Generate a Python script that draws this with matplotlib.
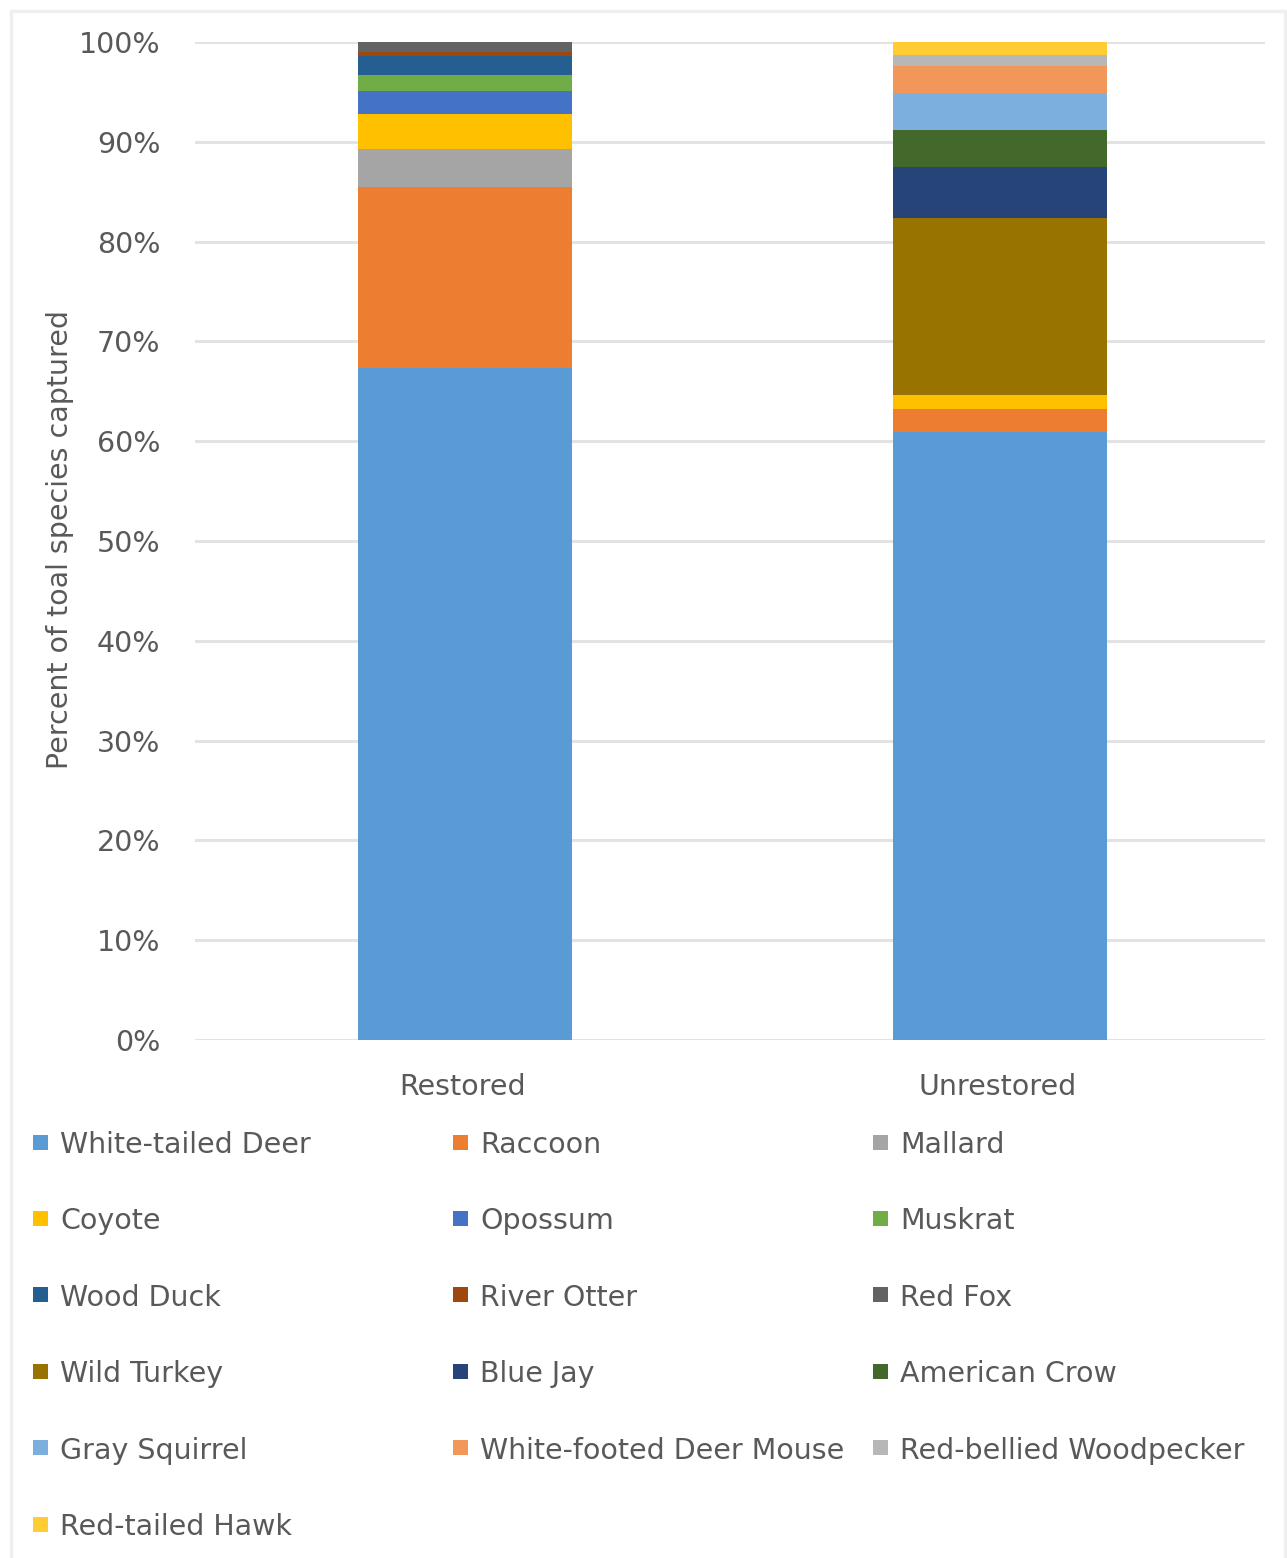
import matplotlib
matplotlib.use("Agg")
import matplotlib.pyplot as plt
from matplotlib.patches import Rectangle
from matplotlib.ticker import PercentFormatter
import numpy as np

# site groups and percent of captures per species
categories = ["Restored", "Unrestored"]
species = [
    "White-tailed Deer", "Raccoon", "Mallard",
    "Coyote", "Opossum", "Muskrat",
    "Wood Duck", "River Otter", "Red Fox",
    "Wild Turkey", "Blue Jay", "American Crow",
    "Gray Squirrel", "White-footed Deer Mouse", "Red-bellied Woodpecker",
    "Red-tailed Hawk",
]
restored = [67.3, 18.2, 3.8, 3.5, 2.3, 1.6, 1.9, 0.4, 1.0, 0, 0, 0, 0, 0, 0, 0]
unrestored = [60.9, 2.3, 0, 1.4, 0, 0, 0, 0, 0, 17.8, 5.1, 3.7, 3.7, 2.7, 1.1, 1.3]
colors = [
    "#5B9BD5", "#ED7D31", "#A5A5A5",
    "#FFC000", "#4472C4", "#70AD47",
    "#255E91", "#9E480E", "#636363",
    "#997300", "#264478", "#43682B",
    "#7CAFDD", "#F1975A", "#B7B7B7",
    "#FFCD33",
]

TXT = "#595959"
FS = 20.5
W, H = 1287, 1558

fig = plt.figure(figsize=(W / 100, H / 100), dpi=100)
fig.patch.set_facecolor("white")
ax = fig.add_axes([195 / W, 1 - 1040 / H, 1070 / W, 998 / H])

x = np.arange(len(categories))
bottom = np.zeros(len(categories))
for name, r, u, c in zip(species, restored, unrestored, colors):
    vals = np.array([r, u], dtype=float)
    ax.bar(x + 0.004, vals, width=0.4, bottom=bottom, color=c, label=name, zorder=3)
    bottom += vals

ax.set_xlim(-0.5, 1.5)
ax.set_ylim(0, 100)
ax.set_yticks(np.arange(0, 101, 10))
ax.yaxis.set_major_formatter(PercentFormatter(decimals=0))
ax.set_xticks(x)
ax.set_xticklabels(categories)
ax.tick_params(axis="both", length=0, labelsize=FS, labelcolor=TXT)
ax.tick_params(axis="y", pad=25)
ax.tick_params(axis="x", pad=24)
ax.grid(axis="y", color="#E3E3E3", linewidth=2.2, zorder=0)
for s in ax.spines.values():
    s.set_visible(False)

fig.text(60 / W, 1 - 540 / H, "Percent of toal species captured", rotation=90,
         ha="center", va="center", fontsize=FS, color=TXT)

# legend laid out row by row in three fixed columns
col_x = [33, 453, 873]
row_y0, row_dy = 1142, 76.4
sq = 15
for i, (name, c) in enumerate(zip(species, colors)):
    cx = col_x[i % 3]
    cy = row_y0 + (i // 3) * row_dy
    fig.patches.append(Rectangle((cx / W, 1 - (cy + sq / 2) / H), sq / W, sq / H,
                                 transform=fig.transFigure, facecolor=c,
                                 edgecolor="none"))
    fig.text((cx + 27) / W, 1 - cy / H, name, ha="left", va="center_baseline",
             fontsize=FS, color=TXT)

# chart border
fig.patches.append(Rectangle((11 / W, -0.02), (1285 - 11) / W, 1 - 11 / H + 0.02,
                             transform=fig.transFigure, facecolor="none",
                             edgecolor="#EFEFEF", linewidth=2.5))

fig.savefig("out.png", dpi=100, facecolor="white")
